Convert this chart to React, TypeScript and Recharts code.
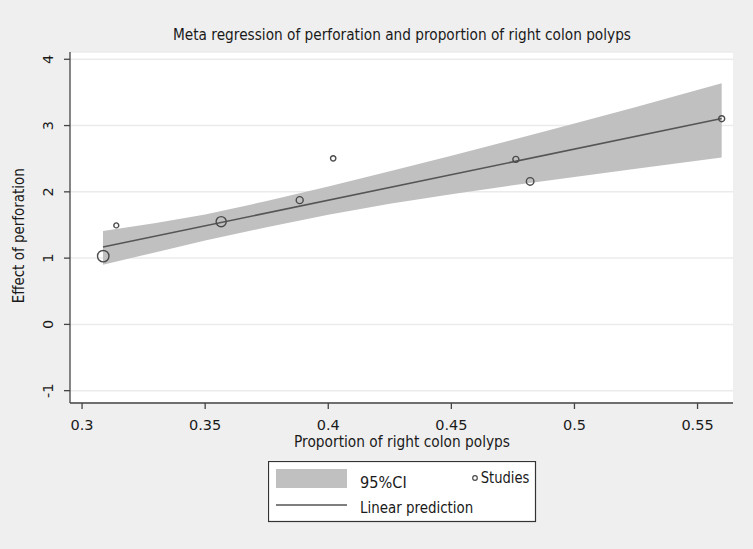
import React from "react";
import {
  ComposedChart,
  Area,
  Line,
  Scatter,
  XAxis,
  YAxis,
  ZAxis,
  CartesianGrid,
  Legend,
  Customized,
} from "recharts";

// ---- data ----
const bandX = [0.3085, 0.33, 0.35, 0.375, 0.4, 0.425, 0.45, 0.475, 0.5, 0.525, 0.5598];
const bandLow = [0.9, 1.09, 1.265, 1.465, 1.655, 1.82, 1.965, 2.1, 2.225, 2.35, 2.52];
const bandHigh = [1.41, 1.53, 1.66, 1.86, 2.08, 2.31, 2.545, 2.785, 3.03, 3.28, 3.64];

const fitX = [0.3085, 0.5598];
const fitY = [1.168, 3.107];

const studyX = [0.3086, 0.3139, 0.3565, 0.3884, 0.402, 0.4762, 0.482, 0.5598];
const studyY = [1.03, 1.494, 1.55, 1.875, 2.505, 2.49, 2.157, 3.103];
const studyWeight = [32, 6, 25, 12, 7, 9, 14, 9];

const xTicks = [0.3, 0.35, 0.4, 0.45, 0.5, 0.55];
const yTicks = [-1, 0, 1, 2, 3, 4];

const TITLE = "Meta regression of perforation and proportion of right colon polyps";
const X_LABEL = "Proportion of right colon polyps";
const Y_LABEL = "Effect of perforation";
const LEGEND_CI = "95%CI";
const LEGEND_FIT = "Linear prediction";
const LEGEND_STUDIES = "Studies";

const bandData = bandX.map((x, i) => ({ x, range: [bandLow[i], bandHigh[i]] }));
const fitData = fitX.map((x, i) => ({ x, y: fitY[i] }));
const studyData = studyX.map((x, i) => ({ x, y: studyY[i], w: studyWeight[i] }));

const FONT = "'DejaVu Sans', Verdana, sans-serif";
const TEXT = "#1a1a1a";
const AXIS = "#444444";

const XTick = (props: any) => {
  const { x, y, payload } = props;
  return (
    <text x={x} y={y + 19} textAnchor="middle" fontFamily={FONT} fontSize={14.5} fill={TEXT}>
      {String(payload.value)}
    </text>
  );
};

const YTick = (props: any) => {
  const { y, payload } = props;
  const bx = 53.5;
  return (
    <text
      x={bx}
      y={y}
      transform={`rotate(-90 ${bx} ${y})`}
      textAnchor="middle"
      fontFamily={FONT}
      fontSize={14.5}
      fill={TEXT}
    >
      {String(payload.value)}
    </text>
  );
};

const Annotations = () => (
  <g>
    <text
      x={402}
      y={40}
      textAnchor="middle"
      fontFamily={FONT}
      fontSize={15}
      fill={TEXT}
      textLength={458}
      lengthAdjust="spacingAndGlyphs"
    >
      {TITLE}
    </text>
    <text
      x={402}
      y={446.7}
      textAnchor="middle"
      fontFamily={FONT}
      fontSize={15}
      fill={TEXT}
      textLength={216}
      lengthAdjust="spacingAndGlyphs"
    >
      {X_LABEL}
    </text>
    <text
      x={24}
      y={235.8}
      transform="rotate(-90 24 235.8)"
      textAnchor="middle"
      fontFamily={FONT}
      fontSize={15}
      fill={TEXT}
      textLength={135}
      lengthAdjust="spacingAndGlyphs"
    >
      {Y_LABEL}
    </text>
  </g>
);

const LegendBox = () => (
  <svg width={269} height={62} style={{ display: "block" }}>
    <rect x={0.5} y={0.5} width={267} height={60} fill="#ffffff" stroke="#333333" strokeWidth={1.2} />
    <rect x={8} y={8} width={71} height={19} fill="#c0c0c0" />
    <text x={92} y={27.3} fontFamily={FONT} fontSize={15} fill={TEXT} textLength={46.7} lengthAdjust="spacingAndGlyphs">
      {LEGEND_CI}
    </text>
    <circle cx={207} cy={17} r={2.3} fill="none" stroke="#4a4a4a" strokeWidth={1.2} />
    <text x={212.7} y={22.3} fontFamily={FONT} fontSize={15} fill={TEXT} textLength={48.7} lengthAdjust="spacingAndGlyphs">
      {LEGEND_STUDIES}
    </text>
    <line x1={8} x2={79} y1={44} y2={44} stroke="#555555" strokeWidth={1.5} />
    <text x={92} y={52.3} fontFamily={FONT} fontSize={15} fill={TEXT} textLength={113.3} lengthAdjust="spacingAndGlyphs">
      {LEGEND_FIT}
    </text>
  </svg>
);

export default function App() {
  return (
    <div style={{ width: 753, height: 549, background: "#efefef" }}>
      <style>{`body{margin:0;background:#efefef;}`}</style>
      <ComposedChart
        width={753}
        height={549}
        data={bandData}
        margin={{ top: 52, right: 20, bottom: 116, left: 30 }}
      >
        <CartesianGrid vertical={false} stroke="#ebebeb" strokeWidth={1.5} fill="#ffffff" />
        <XAxis
          type="number"
          dataKey="x"
          domain={[0.2951, 0.5644]}
          ticks={xTicks}
          height={30}
          tickSize={6}
          tickMargin={2}
          stroke={AXIS}
          axisLine={{ stroke: AXIS, strokeWidth: 1.3 }}
          tickLine={{ stroke: AXIS, strokeWidth: 1.3 }}
          tick={<XTick />}
          allowDataOverflow
        />
        <YAxis
          type="number"
          domain={[-1.186, 4.11]}
          ticks={yTicks}
          width={40}
          tickSize={6}
          tickMargin={2}
          stroke={AXIS}
          axisLine={{ stroke: AXIS, strokeWidth: 1.3 }}
          tickLine={{ stroke: AXIS, strokeWidth: 1.3 }}
          tick={<YTick />}
          allowDataOverflow
        />
        <ZAxis type="number" dataKey="w" domain={[0, 32]} range={[0, 102]} />
        <Area
          type="linear"
          dataKey="range"
          fill="#c0c0c0"
          fillOpacity={1}
          stroke="none"
          isAnimationActive={false}
          activeDot={false}
          dot={false}
        />
        <Line
          data={fitData}
          type="linear"
          dataKey="y"
          stroke="#555555"
          strokeWidth={1.6}
          dot={false}
          activeDot={false}
          isAnimationActive={false}
        />
        <Scatter
          data={studyData}
          dataKey="y"
          shape="circle"
          fill="none"
          stroke="#4a4a4a"
          strokeWidth={1.4}
          isAnimationActive={false}
        />
        <Customized component={Annotations} />
        <Legend
          layout="vertical"
          verticalAlign="middle"
          align="center"
          content={<LegendBox />}
          wrapperStyle={{ left: 268, top: 461, width: 269, height: 62 }}
        />
      </ComposedChart>
    </div>
  );
}
